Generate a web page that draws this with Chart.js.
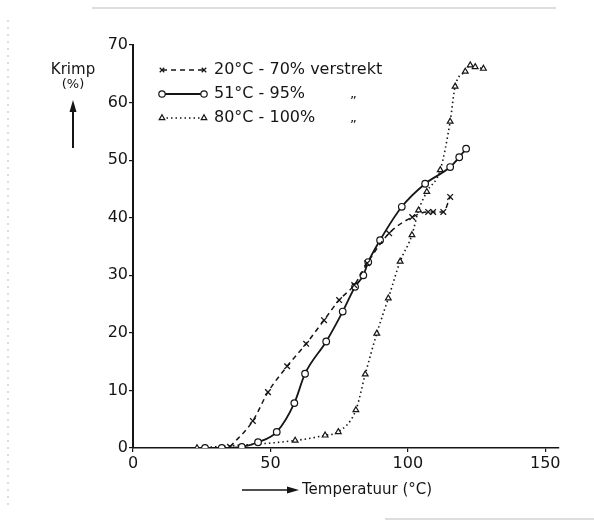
<!DOCTYPE html>
<html>
<head>
<meta charset="utf-8">
<script src="https://cdn.jsdelivr.net/npm/chart.js"></script>
<style>
  body { margin: 0; background: #fff; }
  #wrap { width: 594px; height: 525px; }
</style>
</head>
<body>
<div id="wrap"><canvas id="myChart" width="594" height="525"></canvas></div>
<script>
// 20°C - 70% verstrekt (x---x)
const tempA  = [35.3, 43.6, 49.1, 56.1, 63.0, 69.5, 75.0, 80.5, 85.2, 93.2, 101.6, 107.4, 109.2, 112.9, 115.4];
const krimpA = [0.2, 4.7, 9.7, 14.2, 18.1, 22.2, 25.7, 28.3, 32.1, 37.3, 40.1, 41.0, 41.0, 41.0, 43.6];

// 51°C - 95% verstrekt (o---o)
const tempB  = [26.2, 32.3, 39.6, 45.5, 52.3, 58.7, 62.6, 70.3, 76.3, 80.8, 83.8, 85.6, 89.9, 97.8, 106.3, 115.4, 118.7, 121.2];
const krimpB = [0, 0, 0.2, 1.0, 2.8, 7.8, 12.9, 18.5, 23.7, 28.0, 30.0, 32.3, 36.1, 41.9, 45.9, 48.8, 50.5, 52.0];

// 80°C - 100% verstrekt (triangles, dotted)
const tempC  = [23.3, 59.0, 69.9, 74.7, 81.1, 84.5, 88.7, 92.9, 97.2, 101.5, 103.9, 106.9, 111.8, 115.4, 117.2, 120.9, 122.7, 124.5, 127.5];
const krimpC = [0, 1.3, 2.2, 2.8, 6.6, 12.8, 19.9, 26.0, 32.4, 37.0, 41.3, 44.5, 48.3, 56.7, 62.8, 65.4, 66.5, 66.2, 65.9];

const xTicks = [0, 50, 100, 150];
const yTicks = [0, 10, 20, 30, 40, 50, 60, 70];

const legendLabels = ['20°C - 70% verstrekt', '51°C - 95%', '80°C - 100%'];

const ink = '#151515';
Chart.defaults.font.family = 'DejaVu Sans';
Chart.defaults.color = ink;

const pts = (xs, ys) => xs.map((x, i) => ({ x: x, y: ys[i] }));

const extras = {
    id: 'extras',
    afterDraw(chart) {
        const ctx = chart.ctx;
        ctx.save();

        // scanned page edges
        ctx.strokeStyle = '#bbb';
        ctx.lineWidth = 1;
        ctx.beginPath();
        ctx.moveTo(92, 8); ctx.lineTo(556, 8);
        ctx.moveTo(385, 519); ctx.lineTo(594, 519);
        ctx.stroke();
        ctx.setLineDash([2, 5]);
        ctx.beginPath();
        ctx.moveTo(8, 20); ctx.lineTo(8, 505);
        ctx.stroke();
        ctx.setLineDash([]);

        ctx.fillStyle = ink;
        ctx.strokeStyle = ink;

        // y title with arrow
        ctx.font = '15px DejaVu Sans';
        ctx.textAlign = 'center';
        ctx.textBaseline = 'middle';
        ctx.fillText('Krimp', 73, 70);
        ctx.font = '13px DejaVu Sans';
        ctx.fillText('(%)', 73, 85);
        ctx.lineWidth = 2;
        ctx.beginPath();
        ctx.moveTo(73, 148); ctx.lineTo(73, 108);
        ctx.stroke();
        ctx.beginPath();
        ctx.moveTo(73, 100); ctx.lineTo(69.5, 112); ctx.lineTo(76.5, 112);
        ctx.closePath(); ctx.fill();

        // x title with arrow
        ctx.font = '15px DejaVu Sans';
        ctx.textAlign = 'left';
        ctx.fillText('Temperatuur (°C)', 302, 490);
        ctx.lineWidth = 1.5;
        ctx.beginPath();
        ctx.moveTo(242, 490); ctx.lineTo(290, 490);
        ctx.stroke();
        ctx.beginPath();
        ctx.moveTo(299, 490); ctx.lineTo(287, 486.5); ctx.lineTo(287, 493.5);
        ctx.closePath(); ctx.fill();

        // legend
        const rows = [70, 94, 118];
        chart.data.datasets.forEach((ds, i) => {
            const y = rows[i];
            ctx.strokeStyle = ink;
            ctx.lineWidth = ds.borderWidth;
            ctx.setLineDash(ds.borderDash || []);
            ctx.beginPath();
            ctx.moveTo(162, y); ctx.lineTo(204, y);
            ctx.stroke();
            ctx.setLineDash([]);
            ctx.fillStyle = '#fff';
            ctx.lineWidth = 1.2;
            [162, 204].forEach(px => Chart.helpers.drawPoint(ctx, {
                pointStyle: ds.pointStyle, radius: 3.2, rotation: 0, borderWidth: 1.2
            }, px, y));
            ctx.fillStyle = ink;
            ctx.font = '16px DejaVu Sans';
            ctx.textAlign = 'left';
            ctx.textBaseline = 'middle';
            ctx.fillText(legendLabels[i], 214, y);
            if (i > 0) {
                ctx.font = '13px DejaVu Sans';
                ctx.fillText('„', 350, y + 1);
            }
        });
        ctx.restore();
    }
};

const ctx = document.getElementById('myChart').getContext('2d');
new Chart(ctx, {
    type: 'scatter',
    data: {
        datasets: [{
            label: legendLabels[0],
            data: pts(tempA, krimpA),
            showLine: true,
            borderColor: ink,
            backgroundColor: ink,
            borderWidth: 1.5,
            borderDash: [5, 4],
            pointStyle: 'crossRot',
            pointRadius: 4,
            pointBorderWidth: 1.3,
            cubicInterpolationMode: 'monotone'
        }, {
            label: legendLabels[1],
            data: pts(tempB, krimpB),
            showLine: true,
            borderColor: ink,
            backgroundColor: '#fff',
            borderWidth: 1.8,
            pointStyle: 'circle',
            pointRadius: 3.3,
            pointBorderWidth: 1.2,
            cubicInterpolationMode: 'monotone'
        }, {
            label: legendLabels[2],
            data: pts(tempC, krimpC),
            showLine: true,
            borderColor: ink,
            backgroundColor: '#fff',
            borderWidth: 1.6,
            borderDash: [1.5, 3],
            pointStyle: 'triangle',
            pointRadius: 3.3,
            pointBorderWidth: 1.2,
            cubicInterpolationMode: 'monotone'
        }]
    },
    options: {
        responsive: false,
        animation: false,
        layout: { padding: { top: 45, right: 35, left: 0, bottom: 0 } },
        plugins: { legend: { display: false }, tooltip: { enabled: false } },
        scales: {
            x: {
                type: 'linear',
                min: 0,
                max: 155,
                afterBuildTicks: axis => { axis.ticks = xTicks.map(v => ({ value: v })); },
                afterFit: s => { s.height = 77; },
                border: { color: ink, width: 1.5 },
                grid: { drawOnChartArea: false, tickLength: 4, color: ink, lineWidth: 1.2 },
                ticks: { font: { size: 16 }, padding: 2, maxRotation: 0, color: ink }
            },
            y: {
                min: 0,
                max: 70,
                afterBuildTicks: axis => { axis.ticks = yTicks.map(v => ({ value: v })); },
                afterFit: s => { s.width = 133; },
                border: { color: ink, width: 2 },
                grid: { drawOnChartArea: false, tickLength: 4, color: ink, lineWidth: 1.2 },
                ticks: { font: { size: 16 }, padding: 1, color: ink }
            }
        }
    },
    plugins: [extras]
});
</script>
</body>
</html>
